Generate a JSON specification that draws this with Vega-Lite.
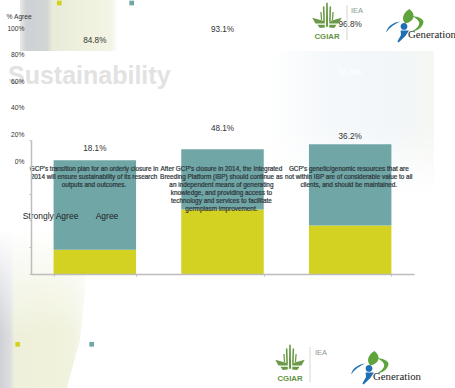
{
  "$schema": "https://vega.github.io/schema/vega-lite/v6.json",
  "width": 455,
  "height": 388,
  "autosize": {"type": "none"},
  "padding": 0,
  "background": "#ffffff",
  "config": {"view": {"stroke": null}, "text": {"font": "Liberation Sans"}},
  "datasets": {
    "responses": [
      {"statement": "s1", "series": "Strongly Agree", "value": 0.181},
      {"statement": "s1", "series": "Agree", "value": 0.667},
      {"statement": "s2", "series": "Strongly Agree", "value": 0.481},
      {"statement": "s2", "series": "Agree", "value": 0.45},
      {"statement": "s3", "series": "Strongly Agree", "value": 0.362},
      {"statement": "s3", "series": "Agree", "value": 0.606}
    ],
    "totals": [
      {"statement": "s1", "value": 0.848},
      {"statement": "s2", "value": 0.931},
      {"statement": "s3", "value": 0.968}
    ],
    "statements": [
      {"statement": "s1", "text": "GCP's transition plan for an orderly closure in|2014 will ensure sustainability of its research|outputs and outcomes."},
      {"statement": "s2", "text": "After GCP's closure in 2014, the Integrated|Breeding Platform (IBP) should continue as|an independent  means of generating|knowledge, and providing access to|technology and services to facilitate|germplasm  improvement."},
      {"statement": "s3", "text": "GCP's genetic/genomic resources that are|not within IBP are of considerable value to all|clients, and should be maintained."}
    ],
    "series": [{"series": "Strongly Agree"}, {"series": "Agree"}]
  },
  "resolve": {
    "scale": {"x": "independent", "y": "independent", "color": "independent"},
    "axis": {"x": "independent", "y": "independent"}
  },
  "layer": [
    {
      "data": {"values": [{"part": "upper wheat"}]},
      "mark": {"type": "rect", "color": {"gradient": "linear", "x1": 0, "y1": 0, "x2": 1, "y2": 0, "stops": [
        {"offset": 0, "color": "#e8eae2"},
        {"offset": 0.07, "color": "#cdd0d5"},
        {"offset": 0.28, "color": "#d3d6d4"},
        {"offset": 0.33, "color": "#e8ebd9"},
        {"offset": 0.7, "color": "#f0f2df"},
        {"offset": 0.93, "color": "#f2f4e6"},
        {"offset": 1, "color": "#ffffff"}
      ]}},
      "encoding": {
        "x": {"datum": 20, "type": "quantitative", "scale": {"domain": [0, 455], "range": [0, 455], "nice": false, "zero": false}, "axis": null},
        "x2": {"datum": 118},
        "y": {"datum": 0, "type": "quantitative", "scale": {"domain": [0, 388], "range": [0, 388], "nice": false, "zero": false}, "axis": null},
        "y2": {"datum": 51}
      }
    },
    {
      "data": {"values": [{"part": "right haze"}]},
      "mark": {"type": "rect", "color": {"gradient": "linear", "x1": 0, "y1": 0, "x2": 1, "y2": 0, "stops": [
        {"offset": 0, "color": "#ffffff"},
        {"offset": 0.3, "color": "#f6f9fb"},
        {"offset": 0.75, "color": "#f2f6f9"},
        {"offset": 1, "color": "#f5f7f2"}
      ]}},
      "encoding": {
        "x": {"datum": 270, "type": "quantitative", "scale": {"domain": [0, 455], "range": [0, 455], "nice": false, "zero": false}, "axis": null},
        "x2": {"datum": 434},
        "y": {"datum": 51, "type": "quantitative", "scale": {"domain": [0, 388], "range": [0, 388], "nice": false, "zero": false}, "axis": null},
        "y2": {"datum": 195}
      }
    },
    {
      "data": {"values": [{"part": "right haze fade"}]},
      "mark": {"type": "rect", "color": {"gradient": "linear", "x1": 0, "y1": 0, "x2": 0, "y2": 1, "stops": [
        {"offset": 0, "color": "rgba(255,255,255,0)"},
        {"offset": 1, "color": "rgba(255,255,255,1)"}
      ]}},
      "encoding": {
        "x": {"datum": 268, "type": "quantitative", "scale": {"domain": [0, 455], "range": [0, 455], "nice": false, "zero": false}, "axis": null},
        "x2": {"datum": 436},
        "y": {"datum": 125, "type": "quantitative", "scale": {"domain": [0, 388], "range": [0, 388], "nice": false, "zero": false}, "axis": null},
        "y2": {"datum": 196}
      }
    },
    {
      "data": {"values": [{"part": "lower wheat"}]},
      "mark": {"type": "point", "filled": true, "opacity": 1, "size": 25600,
        "shape": "M-0.625-1L0.44-1L0.44-0.25L0.375 0.375L0.21 0.975L-0.625 0.975Z",
        "color": {"gradient": "linear", "x1": 0, "y1": 0, "x2": 1, "y2": 0, "stops": [
          {"offset": 0, "color": "#cfd1d6"},
          {"offset": 0.12, "color": "#dcdee0"},
          {"offset": 0.17, "color": "#eef0dc"},
          {"offset": 0.6, "color": "#eff1d9"},
          {"offset": 0.85, "color": "#f1f3e0"},
          {"offset": 1, "color": "#f7f8ee"}
        ]}},
      "encoding": {
        "x": {"datum": 50, "type": "quantitative", "scale": {"domain": [0, 455], "range": [0, 455], "nice": false, "zero": false}, "axis": null},
        "y": {"datum": 310, "type": "quantitative", "scale": {"domain": [0, 388], "range": [0, 388], "nice": false, "zero": false}, "axis": null}
      }
    },
    {
      "data": {"values": [{"part": "lower wheat fade"}]},
      "mark": {"type": "rect", "color": {"gradient": "linear", "x1": 0, "y1": 0, "x2": 0, "y2": 1, "stops": [
        {"offset": 0, "color": "rgba(255,255,255,1)"},
        {"offset": 1, "color": "rgba(255,255,255,0)"}
      ]}},
      "encoding": {
        "x": {"datum": 0, "type": "quantitative", "scale": {"domain": [0, 455], "range": [0, 455], "nice": false, "zero": false}, "axis": null},
        "x2": {"datum": 90},
        "y": {"datum": 228, "type": "quantitative", "scale": {"domain": [0, 388], "range": [0, 388], "nice": false, "zero": false}, "axis": null},
        "y2": {"datum": 335}
      }
    },
    {
      "data": {"values": [{"text": "Sustainability"}]},
      "mark": {"type": "text", "fontSize": 25, "fontWeight": "bold", "color": "#e2e2e2", "align": "left", "baseline": "middle"},
      "encoding": {
        "text": {"field": "text"},
        "x": {"datum": 8, "type": "quantitative", "scale": {"domain": [0, 455], "range": [0, 455], "nice": false, "zero": false}, "axis": null},
        "y": {"datum": 76, "type": "quantitative", "scale": {"domain": [0, 388], "range": [0, 388], "nice": false, "zero": false}, "axis": null}
      }
    },
    {
      "data": {"name": "responses"},
      "mark": {"type": "bar"},
      "encoding": {
        "x": {
          "field": "statement", "type": "nominal", "title": null,
          "scale": {"type": "band", "domain": ["s1", "s2", "s3"], "range": [31, 414], "paddingInner": 0.354, "paddingOuter": 0.177},
          "axis": {"orient": "bottom", "offset": -114, "zindex": 1, "labels": false, "domainColor": "#bdbdbd", "domainWidth": 1.5, "tickColor": "#bdbdbd", "tickSize": 2, "tickBand": "extent"}
        },
        "y": {
          "field": "value", "type": "quantitative", "stack": "zero", "title": null,
          "scale": {"domain": [0, 1], "range": [274, 140], "nice": false},
          "axis": {"orient": "left", "offset": -31, "zindex": 1, "labels": false, "grid": false, "values": [0, 0.2, 0.4, 0.6, 0.8, 1], "domainColor": "#bdbdbd", "domainWidth": 1.5, "tickColor": "#bdbdbd", "tickSize": 2}
        },
        "color": {
          "field": "series", "type": "nominal", "legend": null,
          "scale": {"domain": ["Strongly Agree", "Agree"], "range": ["#d3d122", "#70a6a6"]}
        }
      }
    },
    {
      "data": {"name": "responses"},
      "mark": {"type": "text", "fontSize": 8.2, "baseline": "middle"},
      "encoding": {
        "x": {"field": "statement", "type": "nominal", "scale": {"type": "band", "domain": ["s1", "s2", "s3"], "range": [31, 414], "paddingInner": 0.354, "paddingOuter": 0.177}, "axis": null},
        "y": {
          "field": "value", "type": "quantitative", "stack": "zero", "bandPosition": 0.5, "title": "% Agree",
          "scale": {"domain": [0, 1], "range": [161, 28], "nice": false},
          "axis": {"orient": "left", "offset": -24, "zindex": 1, "domain": false, "ticks": false, "grid": false, "labelPadding": 0, "values": [0, 0.2, 0.4, 0.6, 0.8, 1], "format": ".0%", "labelFont": "Liberation Sans", "labelFontSize": 6.7, "labelColor": "#333333", "titleFont": "Liberation Sans", "titleFontSize": 6.7, "titleFontWeight": "normal", "titleColor": "#333333", "titleAngle": 0, "titleAlign": "left", "titleBaseline": "middle", "titleX": -18, "titleY": 16}
        },
        "text": {"field": "value", "type": "quantitative", "format": ".1%"},
        "color": {"field": "series", "type": "nominal", "legend": null, "scale": {"domain": ["Strongly Agree", "Agree"], "range": ["#333333", "#ffffff"]}}
      }
    },
    {
      "data": {"name": "totals"},
      "mark": {"type": "text", "fontSize": 8.2, "baseline": "middle", "dy": -7, "color": "#333333"},
      "encoding": {
        "x": {"field": "statement", "type": "nominal", "scale": {"type": "band", "domain": ["s1", "s2", "s3"], "range": [31, 414], "paddingInner": 0.354, "paddingOuter": 0.177}, "axis": null},
        "y": {"field": "value", "type": "quantitative", "scale": {"domain": [0, 1], "range": [161, 28], "nice": false}, "axis": null},
        "text": {"field": "value", "type": "quantitative", "format": ".1%"}
      }
    },
    {
      "data": {"name": "statements"},
      "mark": {"type": "text", "fontSize": 6.4, "baseline": "top", "lineBreak": "|", "lineHeight": 8, "color": "#2c3438", "stroke": "#2c3438", "strokeWidth": 0.2},
      "encoding": {
        "x": {"field": "statement", "type": "nominal", "scale": {"type": "band", "domain": ["s1", "s2", "s3"], "range": [30.3, 412.5], "paddingInner": 0.354, "paddingOuter": 0.177}, "axis": null},
        "y": {"datum": 0.806, "type": "quantitative", "scale": {"domain": [0, 1], "range": [274, 140], "nice": false}, "axis": null},
        "text": {"field": "text"}
      }
    },
    {
      "data": {"name": "series"},
      "mark": {"type": "text", "fontSize": 8.5, "baseline": "middle", "color": "#222222"},
      "encoding": {
        "x": {"field": "series", "type": "nominal", "scale": {"type": "point", "padding": 0, "domain": ["Strongly Agree", "Agree"], "range": [50.5, 107]}, "axis": null},
        "y": {"datum": 0.433, "type": "quantitative", "scale": {"domain": [0, 1], "range": [274, 140], "nice": false}, "axis": null},
        "text": {"field": "series"}
      }
    },
    {
      "data": {"name": "series"},
      "mark": {"type": "point", "shape": "square", "filled": true, "opacity": 1, "size": 22},
      "encoding": {
        "x": {"field": "series", "type": "nominal", "scale": {"type": "point", "padding": 0, "domain": ["Strongly Agree", "Agree"], "range": [59.3, 131.7]}, "axis": null},
        "y": {"datum": 3, "type": "quantitative", "scale": {"domain": [0, 388], "range": [0, 388], "nice": false, "zero": false}, "axis": null},
        "color": {"field": "series", "type": "nominal", "legend": null, "scale": {"domain": ["Strongly Agree", "Agree"], "range": ["#d3d122", "#70a6a6"]}}
      }
    },
    {
      "data": {"name": "series"},
      "mark": {"type": "point", "shape": "square", "filled": true, "opacity": 1, "size": 22},
      "encoding": {
        "x": {"field": "series", "type": "nominal", "scale": {"type": "point", "padding": 0, "domain": ["Strongly Agree", "Agree"], "range": [17.7, 91.7]}, "axis": null},
        "y": {"datum": 344.3, "type": "quantitative", "scale": {"domain": [0, 388], "range": [0, 388], "nice": false, "zero": false}, "axis": null},
        "color": {"field": "series", "type": "nominal", "legend": null, "scale": {"domain": ["Strongly Agree", "Agree"], "range": ["#d3d122", "#70a6a6"]}}
      }
    },
    {
      "data": {"values": [{"logo": "CGIAR emblem"}]},
      "mark": {"type": "point", "filled": true, "opacity": 1, "size": 1024, "color": "#6a9a48", "shape": "M-0.05-0.95L0.05-0.95L0.07 0.55L-0.07 0.55ZM-0.26-0.72L-0.16-0.72L-0.13 0.2L-0.23 0.2ZM0.16-0.72L0.26-0.72L0.23 0.2L0.13 0.2ZM-0.42-0.38L-0.34-0.38L-0.3 0.12L-0.38 0.12ZM0.34-0.38L0.42-0.38L0.38 0.12L0.3 0.12ZM-0.92-0.02L-0.14 0.2L-0.14 0.34L-0.72 0.34ZM0.92-0.02L0.14 0.2L0.14 0.34L0.72 0.34ZM-0.6 0.42L-0.14 0.42L-0.14 0.6L-0.45 0.62ZM0.6 0.42L0.14 0.42L0.14 0.6L0.45 0.62Z"},
      "encoding": {
        "x": {"datum": 327, "type": "quantitative", "scale": {"domain": [0, 455], "range": [0, 455], "nice": false, "zero": false}, "axis": null},
        "y": {"datum": 18, "type": "quantitative", "scale": {"domain": [0, 388], "range": [0, 388], "nice": false, "zero": false}, "axis": null}
      }
    },
    {
      "data": {"values": [{"logo": "CGIAR emblem"}]},
      "mark": {"type": "point", "filled": true, "opacity": 1, "size": 1024, "color": "#6a9a48", "shape": "M-0.05-0.95L0.05-0.95L0.07 0.55L-0.07 0.55ZM-0.26-0.72L-0.16-0.72L-0.13 0.2L-0.23 0.2ZM0.16-0.72L0.26-0.72L0.23 0.2L0.13 0.2ZM-0.42-0.38L-0.34-0.38L-0.3 0.12L-0.38 0.12ZM0.34-0.38L0.42-0.38L0.38 0.12L0.3 0.12ZM-0.92-0.02L-0.14 0.2L-0.14 0.34L-0.72 0.34ZM0.92-0.02L0.14 0.2L0.14 0.34L0.72 0.34ZM-0.6 0.42L-0.14 0.42L-0.14 0.6L-0.45 0.62ZM0.6 0.42L0.14 0.42L0.14 0.6L0.45 0.62Z"},
      "encoding": {
        "x": {"datum": 290, "type": "quantitative", "scale": {"domain": [0, 455], "range": [0, 455], "nice": false, "zero": false}, "axis": null},
        "y": {"datum": 360, "type": "quantitative", "scale": {"domain": [0, 388], "range": [0, 388], "nice": false, "zero": false}, "axis": null}
      }
    },
    {
      "data": {"values": [{"text": "CGIAR"}]},
      "mark": {"type": "text", "fontSize": 7.8, "fontWeight": "bold", "color": "#5f9440", "baseline": "middle"},
      "encoding": {
        "text": {"field": "text"},
        "x": {"datum": 327, "type": "quantitative", "scale": {"domain": [0, 455], "range": [0, 455], "nice": false, "zero": false}, "axis": null},
        "y": {"datum": 37, "type": "quantitative", "scale": {"domain": [0, 388], "range": [0, 388], "nice": false, "zero": false}, "axis": null}
      }
    },
    {
      "data": {"values": [{"text": "CGIAR"}]},
      "mark": {"type": "text", "fontSize": 7.8, "fontWeight": "bold", "color": "#5f9440", "baseline": "middle"},
      "encoding": {
        "text": {"field": "text"},
        "x": {"datum": 290, "type": "quantitative", "scale": {"domain": [0, 455], "range": [0, 455], "nice": false, "zero": false}, "axis": null},
        "y": {"datum": 379, "type": "quantitative", "scale": {"domain": [0, 388], "range": [0, 388], "nice": false, "zero": false}, "axis": null}
      }
    },
    {
      "data": {"values": [{"text": "IEA"}]},
      "mark": {"type": "text", "fontSize": 7.5, "color": "#8a9a8a", "baseline": "middle"},
      "encoding": {
        "text": {"field": "text"},
        "x": {"datum": 357, "type": "quantitative", "scale": {"domain": [0, 455], "range": [0, 455], "nice": false, "zero": false}, "axis": null},
        "y": {"datum": 11, "type": "quantitative", "scale": {"domain": [0, 388], "range": [0, 388], "nice": false, "zero": false}, "axis": null}
      }
    },
    {
      "data": {"values": [{"text": "IEA"}]},
      "mark": {"type": "text", "fontSize": 7.5, "color": "#8a9a8a", "baseline": "middle"},
      "encoding": {
        "text": {"field": "text"},
        "x": {"datum": 321, "type": "quantitative", "scale": {"domain": [0, 455], "range": [0, 455], "nice": false, "zero": false}, "axis": null},
        "y": {"datum": 353, "type": "quantitative", "scale": {"domain": [0, 388], "range": [0, 388], "nice": false, "zero": false}, "axis": null}
      }
    },
    {
      "data": {"values": [{"logo": "divider"}]},
      "mark": {"type": "rule", "color": "#d5d8d0", "strokeWidth": 1},
      "encoding": {
        "x": {"datum": 347, "type": "quantitative", "scale": {"domain": [0, 455], "range": [0, 455], "nice": false, "zero": false}, "axis": null},
        "y": {"datum": 5, "type": "quantitative", "scale": {"domain": [0, 388], "range": [0, 388], "nice": false, "zero": false}, "axis": null},
        "y2": {"datum": 40}
      }
    },
    {
      "data": {"values": [{"logo": "divider"}]},
      "mark": {"type": "rule", "color": "#d5d8d0", "strokeWidth": 1},
      "encoding": {
        "x": {"datum": 310, "type": "quantitative", "scale": {"domain": [0, 455], "range": [0, 455], "nice": false, "zero": false}, "axis": null},
        "y": {"datum": 347, "type": "quantitative", "scale": {"domain": [0, 388], "range": [0, 388], "nice": false, "zero": false}, "axis": null},
        "y2": {"datum": 382}
      }
    },
    {
      "data": {"values": [{"logo": "Generation leaf"}]},
      "mark": {"type": "point", "filled": true, "opacity": 1, "size": 1600, "color": "#5fa33c", "shape": "M0.22-0.85C0.55-0.6 0.5-0.25 0.02-0.12C-0.2-0.35-0.1-0.65 0.22-0.85ZM0.35-0.5C0.8-0.45 1-0.3 0.9-0.1C0.8 0.15 0.55 0.25 0.3 0.3C0.6 0.15 0.75-0.05 0.7-0.2C0.65-0.32 0.5-0.42 0.35-0.5Z"},
      "encoding": {
        "x": {"datum": 405, "type": "quantitative", "scale": {"domain": [0, 455], "range": [0, 455], "nice": false, "zero": false}, "axis": null},
        "y": {"datum": 26, "type": "quantitative", "scale": {"domain": [0, 388], "range": [0, 388], "nice": false, "zero": false}, "axis": null}
      }
    },
    {
      "data": {"values": [{"logo": "Generation leaf"}]},
      "mark": {"type": "point", "filled": true, "opacity": 1, "size": 1600, "color": "#5fa33c", "shape": "M0.22-0.85C0.55-0.6 0.5-0.25 0.02-0.12C-0.2-0.35-0.1-0.65 0.22-0.85ZM0.35-0.5C0.8-0.45 1-0.3 0.9-0.1C0.8 0.15 0.55 0.25 0.3 0.3C0.6 0.15 0.75-0.05 0.7-0.2C0.65-0.32 0.5-0.42 0.35-0.5Z"},
      "encoding": {
        "x": {"datum": 370, "type": "quantitative", "scale": {"domain": [0, 455], "range": [0, 455], "nice": false, "zero": false}, "axis": null},
        "y": {"datum": 368, "type": "quantitative", "scale": {"domain": [0, 388], "range": [0, 388], "nice": false, "zero": false}, "axis": null}
      }
    },
    {
      "data": {"values": [{"logo": "Generation figure"}]},
      "mark": {"type": "point", "filled": true, "opacity": 1, "size": 1600, "color": "#1f6fb5", "shape": "M-0.95 0.32C-0.85-0.02-0.55-0.18-0.25-0.22C-0.5-0.1-0.75 0.05-0.95 0.32ZM-0.22 0.02A0.17 0.17 0 1 1 0.12 0.02A0.17 0.17 0 1 1-0.22 0.02ZM-0.22 0.22L0.2 0.22L0.02 0.5L-0.32 0.82L-0.38 0.78L-0.2 0.45Z"},
      "encoding": {
        "x": {"datum": 405, "type": "quantitative", "scale": {"domain": [0, 455], "range": [0, 455], "nice": false, "zero": false}, "axis": null},
        "y": {"datum": 26, "type": "quantitative", "scale": {"domain": [0, 388], "range": [0, 388], "nice": false, "zero": false}, "axis": null}
      }
    },
    {
      "data": {"values": [{"logo": "Generation figure"}]},
      "mark": {"type": "point", "filled": true, "opacity": 1, "size": 1600, "color": "#1f6fb5", "shape": "M-0.95 0.32C-0.85-0.02-0.55-0.18-0.25-0.22C-0.5-0.1-0.75 0.05-0.95 0.32ZM-0.22 0.02A0.17 0.17 0 1 1 0.12 0.02A0.17 0.17 0 1 1-0.22 0.02ZM-0.22 0.22L0.2 0.22L0.02 0.5L-0.32 0.82L-0.38 0.78L-0.2 0.45Z"},
      "encoding": {
        "x": {"datum": 370, "type": "quantitative", "scale": {"domain": [0, 455], "range": [0, 455], "nice": false, "zero": false}, "axis": null},
        "y": {"datum": 368, "type": "quantitative", "scale": {"domain": [0, 388], "range": [0, 388], "nice": false, "zero": false}, "axis": null}
      }
    },
    {
      "data": {"values": [{"text": "Generation"}]},
      "mark": {"type": "text", "font": "Liberation Serif", "fontSize": 10.8, "color": "#222222", "align": "left", "baseline": "middle"},
      "encoding": {
        "text": {"field": "text"},
        "x": {"datum": 408, "type": "quantitative", "scale": {"domain": [0, 455], "range": [0, 455], "nice": false, "zero": false}, "axis": null},
        "y": {"datum": 35, "type": "quantitative", "scale": {"domain": [0, 388], "range": [0, 388], "nice": false, "zero": false}, "axis": null}
      }
    },
    {
      "data": {"values": [{"text": "Generation"}]},
      "mark": {"type": "text", "font": "Liberation Serif", "fontSize": 10.8, "color": "#222222", "align": "left", "baseline": "middle"},
      "encoding": {
        "text": {"field": "text"},
        "x": {"datum": 373, "type": "quantitative", "scale": {"domain": [0, 455], "range": [0, 455], "nice": false, "zero": false}, "axis": null},
        "y": {"datum": 377, "type": "quantitative", "scale": {"domain": [0, 388], "range": [0, 388], "nice": false, "zero": false}, "axis": null}
      }
    }
  ]
}
